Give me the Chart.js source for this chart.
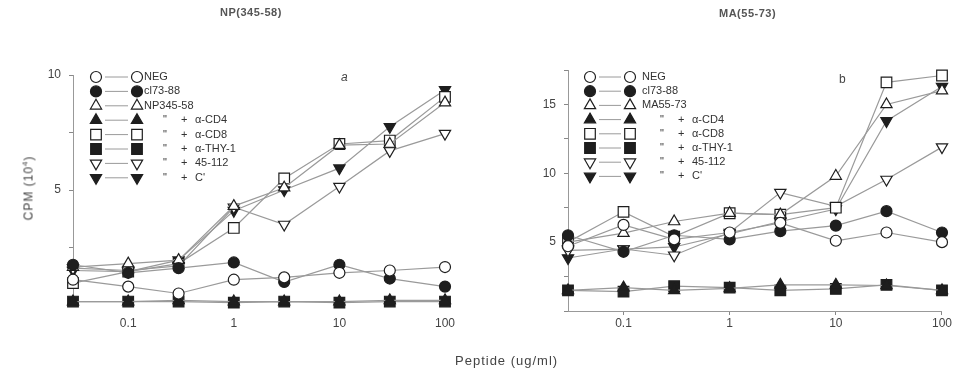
<!DOCTYPE html>
<html>
<head>
<meta charset="utf-8">
<script src="https://cdn.jsdelivr.net/npm/chart.js@4"></script>
<style>
  body { margin: 0; background: #fff; width: 953px; height: 375px; overflow: hidden; position: relative; font-family: "Liberation Sans", Arial, sans-serif; color: #444; }
  .cv { position: absolute; top: 0; }
  .txt { position: absolute; white-space: nowrap; }
</style>
</head>
<body>
<canvas id="npChart" class="cv" style="left:0" width="476" height="375"></canvas>
<canvas id="maChart" class="cv" style="left:476px" width="477" height="375"></canvas>
<div class="txt" style="left:220px;top:6px;font-size:11px;font-weight:bold;color:#555;letter-spacing:0.5px">NP(345-58)</div>
<div class="txt" style="left:719px;top:7px;font-size:11px;font-weight:bold;color:#555;letter-spacing:0.5px">MA(55-73)</div>
<div class="txt" style="left:28px;top:188px;font-size:12px;letter-spacing:1px;transform:translate(-50%,-50%) rotate(-90deg)">CPM (10<sup style="font-size:8px">4</sup>)</div>
<div class="txt" style="left:455px;top:353px;font-size:13px;letter-spacing:1px">Peptide (ug/ml)</div>
<div class="txt" style="left:341px;top:70px;font-size:12px;font-style:italic">a</div>
<div class="txt" style="left:839px;top:72px;font-size:12px">b</div>
<script>
// peptide concentrations (ug/ml)
const doses = [0.03, 0.1, 0.3, 1, 3, 10, 30, 100];
const doseTicks = [0.1, 1, 10, 100];

// panel a: NP(345-58), CPM x 10^4
const npNeg    = [1.1, 0.8, 0.5, 1.1, 1.2, 1.4, 1.5, 1.65];
const npCl73   = [1.75, 1.4, 1.6, 1.85, 1.0, 1.75, 1.15, 0.8];
const npPep    = [1.65, 1.8, 1.95, 4.3, 5.1, 6.95, 7.0, 8.8];
const npCD4    = [0.15, 0.15, 0.2, 0.15, 0.15, 0.15, 0.2, 0.2];
const npCD8    = [0.95, 1.45, 1.8, 3.35, 5.5, 7.0, 7.15, 9.05];
const npTHY1   = [0.15, 0.15, 0.15, 0.1, 0.15, 0.1, 0.15, 0.15];
const np45112  = [1.6, 1.5, 1.7, 4.25, 3.5, 5.15, 6.7, 7.45];
const npC      = [1.5, 1.45, 1.95, 4.1, 5.0, 5.95, 7.75, 9.35];

// panel b: MA(55-73)
const maNeg    = [4.7, 6.25, 5.2, 5.7, 6.4, 5.1, 5.7, 5.0];
const maCl73   = [5.5, 4.3, 5.5, 5.2, 5.8, 6.2, 7.25, 5.7];
const maPep    = [5.0, 5.65, 6.5, 7.1, 7.0, 9.8, 15.0, 16.0];
const maCD4    = [1.5, 1.7, 1.5, 1.65, 1.9, 1.9, 1.85, 1.5];
const maCD8    = [5.0, 7.2, 5.4, 7.1, 7.0, 7.5, 16.6, 17.1];
const maTHY1   = [1.5, 1.4, 1.8, 1.7, 1.5, 1.6, 1.9, 1.5];
const ma45112  = [4.4, 4.5, 4.05, 5.7, 8.6, 7.6, 9.55, 11.9];
const maC      = [3.85, 4.5, 4.65, 5.6, 6.5, 7.4, 13.8, 16.3];

const treatLabels = ['α-CD4', 'α-CD8', 'α-THY-1', '45-112', "C'"];

const INK = '#1e1e1e';
const LINE = '#9a9a9a';

// marker look for each of the 8 series (same order in both panels)
const markers = [
    { style: 'circle',   filled: false, r: 5.5, rot: 0 },
    { style: 'circle',   filled: true,  r: 5.5, rot: 0 },
    { style: 'triangle', filled: false, r: 6.5, rot: 0 },
    { style: 'triangle', filled: true,  r: 6.5, rot: 0 },
    { style: 'rect',     filled: false, r: 7.5, rot: 0 },
    { style: 'rect',     filled: true,  r: 7.5, rot: 0 },
    { style: 'triangle', filled: false, r: 6.5, rot: 180 },
    { style: 'triangle', filled: true,  r: 6.5, rot: 180 }
];

function makeDatasets(labels, series) {
    return series.map((vals, i) => {
        const m = markers[i];
        return {
            label: labels[i],
            data: doses.map((d, k) => ({ x: d, y: vals[k] })),
            borderColor: LINE,
            borderWidth: 1.2,
            pointStyle: m.style,
            pointRadius: m.r,
            pointRotation: m.rot,
            pointBorderColor: INK,
            pointBorderWidth: 1.2,
            pointBackgroundColor: m.filled ? INK : '#fff',
            clip: false
        };
    });
}

function drawMarker(ctx, m, x, y) {
    ctx.save();
    ctx.translate(x, y);
    ctx.rotate(m.rot * Math.PI / 180);
    ctx.beginPath();
    if (m.style === 'circle') {
        ctx.arc(0, 0, m.r, 0, Math.PI * 2);
    } else if (m.style === 'rect') {
        const s = m.r * Math.SQRT1_2;
        ctx.rect(-s, -s, 2 * s, 2 * s);
    } else {
        const r = m.r;
        ctx.moveTo(0, -r);
        ctx.lineTo(r * 0.866, r * 0.5);
        ctx.lineTo(-r * 0.866, r * 0.5);
        ctx.closePath();
    }
    ctx.fillStyle = m.filled ? INK : '#fff';
    ctx.fill();
    ctx.lineWidth = 1.2;
    ctx.strokeStyle = INK;
    ctx.stroke();
    ctx.restore();
}

// symbol key drawn in the upper left of each panel
const symbolKey = {
    id: 'symbolKey',
    afterDatasetsDraw(chart, args, o) {
        const ctx = chart.ctx;
        ctx.save();
        ctx.font = '11px "Liberation Sans", Arial, sans-serif';
        ctx.textBaseline = 'middle';
        ctx.fillStyle = '#333';
        chart.data.datasets.forEach((ds, i) => {
            const y = o.y0 + i * o.dy;
            ctx.strokeStyle = LINE;
            ctx.lineWidth = 1;
            ctx.beginPath();
            ctx.moveTo(o.x1 + 9, y);
            ctx.lineTo(o.x2 - 9, y);
            ctx.stroke();
            drawMarker(ctx, markers[i], o.x1, y);
            drawMarker(ctx, markers[i], o.x2, y);
            if (i < 3) {
                ctx.fillText(ds.label, o.xt, y);
            } else {
                ctx.fillText('"', o.xq, y);
                ctx.fillText('+', o.xp, y);
                ctx.fillText(ds.label, o.xl, y);
            }
        });
        ctx.restore();
    }
};

function makeOptions(yMax, pad, key, showXBorder, xPad) {
    return {
        responsive: false,
        animation: false,
        layout: { padding: pad },
        plugins: {
            legend: { display: false },
            tooltip: { enabled: false },
            symbolKey: key
        },
        scales: {
            x: {
                type: 'logarithmic',
                min: 0.03,
                max: 100,
                afterBuildTicks: axis => { axis.ticks = doseTicks.map(v => ({ value: v })); },
                afterFit: axis => { axis.height = 30; },
                ticks: {
                    color: '#444',
                    font: { family: '"Liberation Sans", Arial, sans-serif', size: 12 },
                    padding: xPad,
                    maxRotation: 0,
                    callback: v => String(v)
                },
                grid: { display: showXBorder, drawOnChartArea: false, tickLength: 4, color: '#888' },
                border: { display: showXBorder, color: '#999' }
            },
            y: {
                min: 0,
                max: yMax,
                afterFit: axis => { axis.width = 40; },
                ticks: {
                    stepSize: 2.5,
                    color: '#444',
                    font: { family: '"Liberation Sans", Arial, sans-serif', size: 12 },
                    padding: 8,
                    callback: v => (v > 0 && v % 5 === 0) ? String(v) : ''
                },
                grid: { drawOnChartArea: false, tickLength: 4, color: '#888' },
                border: { color: '#999' }
            }
        }
    };
}

new Chart(document.getElementById('npChart').getContext('2d'), {
    type: 'line',
    data: {
        datasets: makeDatasets(['NEG', 'cl73-88', 'NP345-58'].concat(treatLabels),
            [npNeg, npCl73, npPep, npCD4, npCD8, npTHY1, np45112, npC])
    },
    options: makeOptions(10, { top: 75, left: 33, right: 31, bottom: 40 },
        { x1: 96, x2: 137, xt: 144, xq: 163, xp: 181, xl: 195, y0: 77, dy: 14.4 }, false, 7),
    plugins: [symbolKey]
});

new Chart(document.getElementById('maChart').getContext('2d'), {
    type: 'line',
    data: {
        datasets: makeDatasets(['NEG', 'cl73-88', 'MA55-73'].concat(treatLabels),
            [maNeg, maCl73, maPep, maCD4, maCD8, maTHY1, ma45112, maC])
    },
    options: makeOptions(17.5, { top: 70, left: 52, right: 11, bottom: 34 },
        { x1: 114, x2: 154, xt: 166, xq: 184, xp: 202, xl: 216, y0: 77, dy: 14.2 }, true, 1),
    plugins: [symbolKey]
});
</script>
</body>
</html>
